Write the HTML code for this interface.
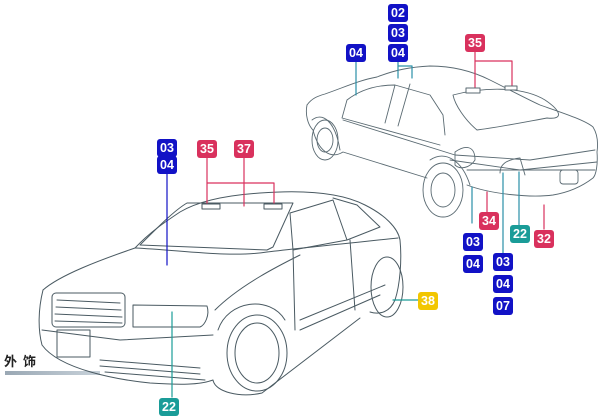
<!DOCTYPE html>
<html><head><meta charset="utf-8"><style>
html,body{margin:0;padding:0;background:#fff;}
body{width:606px;height:417px;position:relative;overflow:hidden;font-family:"Liberation Sans","Noto Sans CJK SC",sans-serif;}
.b{position:absolute;width:20px;height:18px;border-radius:3px;color:#fff;font-weight:bold;font-size:12.5px;line-height:18px;text-align:center;}
.bl{background:#1212c6;}.pk{background:#d9315d;}.tl{background:#1a9c98;}.yl{background:#f2c600;}
</style></head><body>
<svg width="606" height="417" style="position:absolute;left:0;top:0" fill="none" stroke-linejoin="round" stroke-linecap="round">
<defs><linearGradient id="g" x1="0" x2="1"><stop offset="0" stop-color="#9aa8b4"/><stop offset="1" stop-color="#c8d2da"/></linearGradient></defs>
<rect x="5" y="371" width="95" height="4" fill="url(#g)"/>
<!-- rear car -->
<g stroke="#5a6a72" stroke-width="0.9">
<path d="M307,105 C312,98 318,96 325,94 C345,87 360,80 377,77 C395,70 410,67 430,66 C450,66 470,70 490,80 C510,90 525,98 540,105 C560,112 585,120 593,127 C598,135 598,145 597,152 C598,165 596,175 593,178 C580,188 565,193 553,195 C530,198 490,194 467,185"/>
<path d="M307,105 C305,115 308,125 313,130 M313,130 C318,150 330,160 343,152 L427,178"/>
<ellipse cx="443" cy="190" rx="20" ry="27"/><ellipse cx="443" cy="190" rx="12" ry="17"/>
<ellipse cx="325" cy="140" rx="13" ry="20"/><ellipse cx="325" cy="140" rx="8" ry="12"/>
<path d="M430,160 C445,150 462,160 470,185 M312,120 C322,112 335,120 340,150"/>
<path d="M347,100 C360,90 375,85 395,85 L430,95 L443,115 L445,135 M347,100 L342,118 L440,145 M395,85 L385,123 M410,84 L398,126"/>
<path d="M453,95 C480,88 520,85 545,100 C560,110 565,120 547,118 C525,122 500,127 477,130 C465,120 455,105 453,95 Z"/>
<path d="M343,120 L455,155 L530,160 L595,150 M450,160 L520,170 L597,162 M467,170 L595,170 M500,173 C500,165 505,160 520,158 L525,175"/>
<rect x="560" y="170" width="18" height="14" rx="3"/>
<path d="M455,152 C465,145 475,145 475,160 C470,168 460,170 455,165 Z"/>
</g>
<!-- front car -->
<g stroke="#4a5a62" stroke-width="1">
<path d="M43,290 C60,275 100,260 135,248 C150,232 165,222 180,212 C200,200 230,195 260,193 C300,190 340,192 365,205 C385,215 398,228 400,240 C402,260 400,285 395,300 C390,312 380,315 370,312"/>
<path d="M43,290 C38,310 38,330 42,345 C60,370 120,380 150,383 C180,385 200,385 213,380 C215,392 240,398 262,393 L360,318"/>
<path d="M140,245 C160,225 175,210 187,203 L293,203 L273,247 L267,250 Z"/>
<path d="M290,213 L333,200 L347,240 L293,250 Z M333,198 L357,205 L380,227 L347,240"/>
<path d="M135,248 C180,250 230,258 267,252 C300,248 350,243 398,238"/>
<path d="M215,310 C240,285 280,265 300,255 M42,330 L120,340 L213,335 M293,250 L295,330 M350,240 L355,310"/>
<rect x="52" y="293" width="73" height="34" rx="4"/>
<path d="M57,300 L120,303 M56,307 L121,310 M55,314 L122,317 M55,321 L122,323"/>
<path d="M133,305 L207,306 C210,315 205,325 200,327 L133,327 Z"/>
<rect x="57" y="330" width="33" height="27"/>
<path d="M100,360 L200,368 M100,366 L200,374 M105,372 L205,380"/>
<ellipse cx="257" cy="353" rx="30" ry="38"/><ellipse cx="257" cy="353" rx="22" ry="30"/>
<path d="M218,330 C228,300 270,295 285,320"/>
<ellipse cx="387" cy="287" rx="16" ry="30"/>
<path d="M300,320 L385,285 M300,330 L380,295"/>
</g>
<!-- leaders -->
<g stroke-width="1.2">
<path d="M167,174 V265" stroke="#1212c6"/>
<path d="M172,312 V397" stroke="#1a9c98"/>
<path d="M207,157 V206 M207,183 H274 V206 M244,157 V206" stroke="#d9315d"/>
<path d="M356,62 V95 M398,62 V78 M398,66 H412 V78" stroke="#2a90a8"/>
<path d="M475,52 V88 M475,61 H512 V88" stroke="#d9315d"/>
<path d="M472,187 V223 M503,173 V253 M519,172 V225" stroke="#2a90a8"/>
<path d="M487,192 V212 M544,205 V229" stroke="#d9315d"/>
<path d="M393,300 H418" stroke="#1a9c98"/>
</g>
<rect x="202" y="204" width="18" height="5" fill="#fff" stroke="#4a5a62"/><rect x="264" y="204" width="18" height="5" fill="#fff" stroke="#4a5a62"/>
<rect x="466" y="88" width="14" height="5" fill="#fff" stroke="#5a6a72"/><rect x="505" y="86" width="12" height="4" fill="#fff" stroke="#5a6a72"/>
</svg>
<div style="position:absolute;left:4px;top:351px;font-size:13px;font-weight:bold;color:#222;letter-spacing:6px;">外饰</div>
<div class="b bl" style="left:388px;top:4px">02</div>
<div class="b bl" style="left:388px;top:24px">03</div>
<div class="b bl" style="left:388px;top:44px">04</div>
<div class="b bl" style="left:346px;top:44px">04</div>
<div class="b pk" style="left:465px;top:34px">35</div>
<div class="b bl" style="left:157px;top:139px">03</div>
<div class="b bl" style="left:157px;top:156px">04</div>
<div class="b pk" style="left:197px;top:140px">35</div>
<div class="b pk" style="left:234px;top:140px">37</div>
<div class="b pk" style="left:479px;top:212px">34</div>
<div class="b bl" style="left:463px;top:233px">03</div>
<div class="b bl" style="left:463px;top:255px">04</div>
<div class="b tl" style="left:510px;top:225px">22</div>
<div class="b pk" style="left:534px;top:230px">32</div>
<div class="b bl" style="left:493px;top:253px">03</div>
<div class="b bl" style="left:493px;top:275px">04</div>
<div class="b bl" style="left:493px;top:297px">07</div>
<div class="b yl" style="left:418px;top:292px">38</div>
<div class="b tl" style="left:159px;top:398px">22</div>
</body></html>
